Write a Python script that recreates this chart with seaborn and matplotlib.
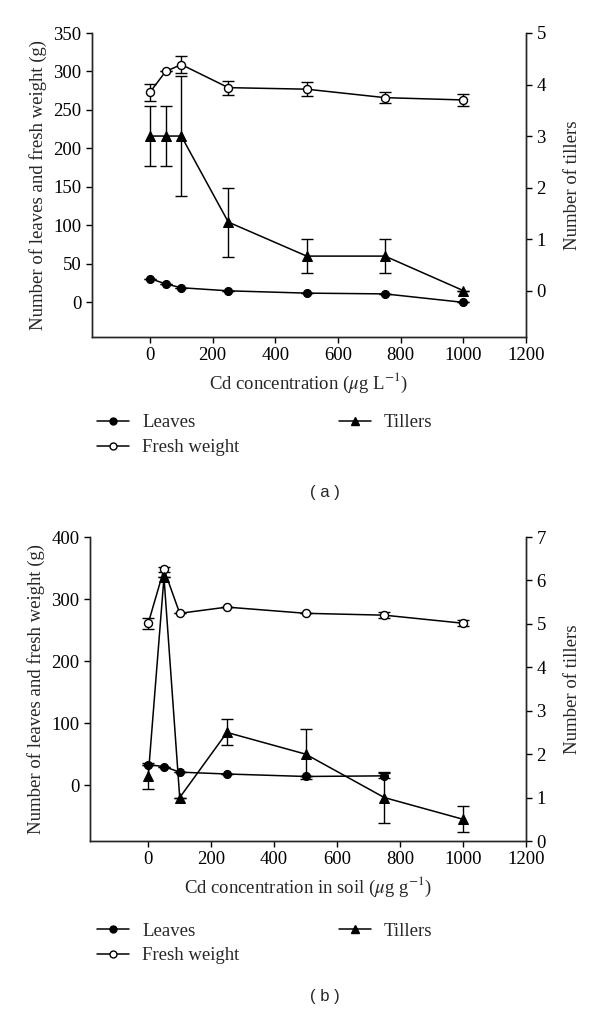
import matplotlib
matplotlib.use('Agg')
import matplotlib.pyplot as plt
import seaborn as sns
import pandas as pd
from matplotlib.lines import Line2D

# Cd concentrations
conc = [0, 50, 100, 250, 500, 750, 1000]

# (a) solution culture
leaves_a = [31, 24, 19, 15, 12, 11, 0]
fresh_a = [273, 300, 309, 279, 277, 266, 263]
fresh_a_err = [11, 0, 11, 9, 9, 7, 8]
tillers_a = [3.0, 3.0, 3.0, 1.33, 0.67, 0.67, 0.0]
tillers_a_err = [0.58, 0.58, 1.17, 0.67, 0.33, 0.33, 0]

# (b) soil
conc_leaves_b = [0, 50, 100, 250, 500, 750]
leaves_b = [33, 30, 21, 18, 14, 15]
leaves_b_err = [0, 0, 0, 0, 0, 4]
fresh_b = [261, 348, 277, 287, 277, 274, 261]
fresh_b_err = [9, 4, 0, 0, 0, 5, 5]
tillers_b = [1.5, 6.07, 1.0, 2.5, 2.0, 1.0, 0.5]
tillers_b_err = [0.3, 0, 0, 0.3, 0.58, 0.58, 0.3]

sns.set_style('ticks')
plt.rcParams['font.family'] = ['Liberation Serif', 'DejaVu Serif']
plt.rcParams['mathtext.fontset'] = 'stix'
plt.rcParams['axes.linewidth'] = 1.0
plt.rcParams['xtick.major.size'] = 4
plt.rcParams['ytick.major.size'] = 4

FS = 13.5
fig = plt.figure(figsize=(6, 10.14), dpi=100)


def draw_panel(rect, x_l, leaves, leaves_err, fresh, fresh_err, tillers, tillers_err,
               ylim_l, yticks_l, ylim_r, yticks_r, xlabel):
    ax = fig.add_axes(rect)
    ax2 = ax.twinx()
    ms = 5.8
    # leaves (filled circles)
    sns.lineplot(x=x_l, y=leaves, ax=ax, color='black', marker='o', markersize=ms,
                 markeredgecolor='black', lw=1.1, zorder=3)
    ax.errorbar(x_l, leaves, yerr=leaves_err, fmt='none', ecolor='black', elinewidth=1,
                capsize=4, capthick=1, zorder=2)
    # fresh weight (open circles)
    sns.lineplot(x=conc, y=fresh, ax=ax, color='black', marker='o', markersize=ms,
                 markerfacecolor='white', markeredgecolor='black', markeredgewidth=1,
                 lw=1.1, zorder=3)
    ax.errorbar(conc, fresh, yerr=fresh_err, fmt='none', ecolor='black', elinewidth=1,
                capsize=4, capthick=1, zorder=2)
    # tillers (triangles)
    sns.lineplot(x=conc, y=tillers, ax=ax2, color='black', marker='^', markersize=ms + 1,
                 markeredgecolor='black', lw=1.1, zorder=3)
    ax2.errorbar(conc, tillers, yerr=tillers_err, fmt='none', ecolor='black', elinewidth=1,
                 capsize=4, capthick=1, zorder=2)

    ax.set_xlim(-185, 1200)
    ax.set_xticks(range(0, 1201, 200))
    ax.set_ylim(*ylim_l)
    ax.set_yticks(yticks_l)
    ax2.set_ylim(*ylim_r)
    ax2.set_yticks(yticks_r)
    for a in (ax, ax2):
        a.spines['top'].set_visible(False)
        a.tick_params(direction='out', labelsize=FS, width=1, colors='black')
    ax2.spines['right'].set_visible(True)
    ax.set_xlabel(xlabel, fontsize=FS, labelpad=5)
    ax.set_ylabel('Number of leaves and fresh weight (g)', fontsize=FS, labelpad=5)
    ax2.set_ylabel('Number of tillers', fontsize=FS, labelpad=13)
    return ax


def add_legend(ytop):
    h = [Line2D([], [], color='black', marker='o', markersize=5, lw=1.1),
         Line2D([], [], color='black', marker='o', markersize=5, lw=1.1,
                markerfacecolor='white'),
         Line2D([], [], color='black', marker='^', markersize=5.5, lw=1.1)]
    fig.legend(h, ['Leaves', 'Fresh weight', 'Tillers'], ncol=2, frameon=False,
               loc='upper left', bbox_to_anchor=(88 / 600, ytop), fontsize=FS,
               handlelength=1.7, handletextpad=0.7, columnspacing=5.3,
               labelspacing=0.4, borderpad=0)


draw_panel([92 / 600, 1 - 337 / 1014, 434 / 600, 304 / 1014], conc, leaves_a,
           [0] * 7, fresh_a, fresh_a_err, tillers_a, tillers_a_err,
           (-45, 350), range(0, 351, 50), (-0.9, 5), range(0, 6),
           r'Cd concentration ($\mu$g L$^{-1}$)')
add_legend(1 - 405 / 1014)
fig.text(325 / 600, 1 - 492 / 1014, '( a )', ha='center', va='center', fontsize=12,
         family=['Liberation Sans', 'DejaVu Sans'])

draw_panel([90 / 600, 1 - 841 / 1014, 436 / 600, 304 / 1014], conc_leaves_b, leaves_b,
           leaves_b_err, fresh_b, fresh_b_err, tillers_b, tillers_b_err,
           (-90, 400), range(0, 401, 100), (0, 7), range(0, 8),
           r'Cd concentration in soil ($\mu$g g$^{-1}$)')
add_legend(1 - 913 / 1014)
fig.text(325 / 600, 1 - 997 / 1014, '( b )', ha='center', va='center', fontsize=12,
         family=['Liberation Sans', 'DejaVu Sans'])

fig.savefig('out.png', dpi=100, facecolor='white')
